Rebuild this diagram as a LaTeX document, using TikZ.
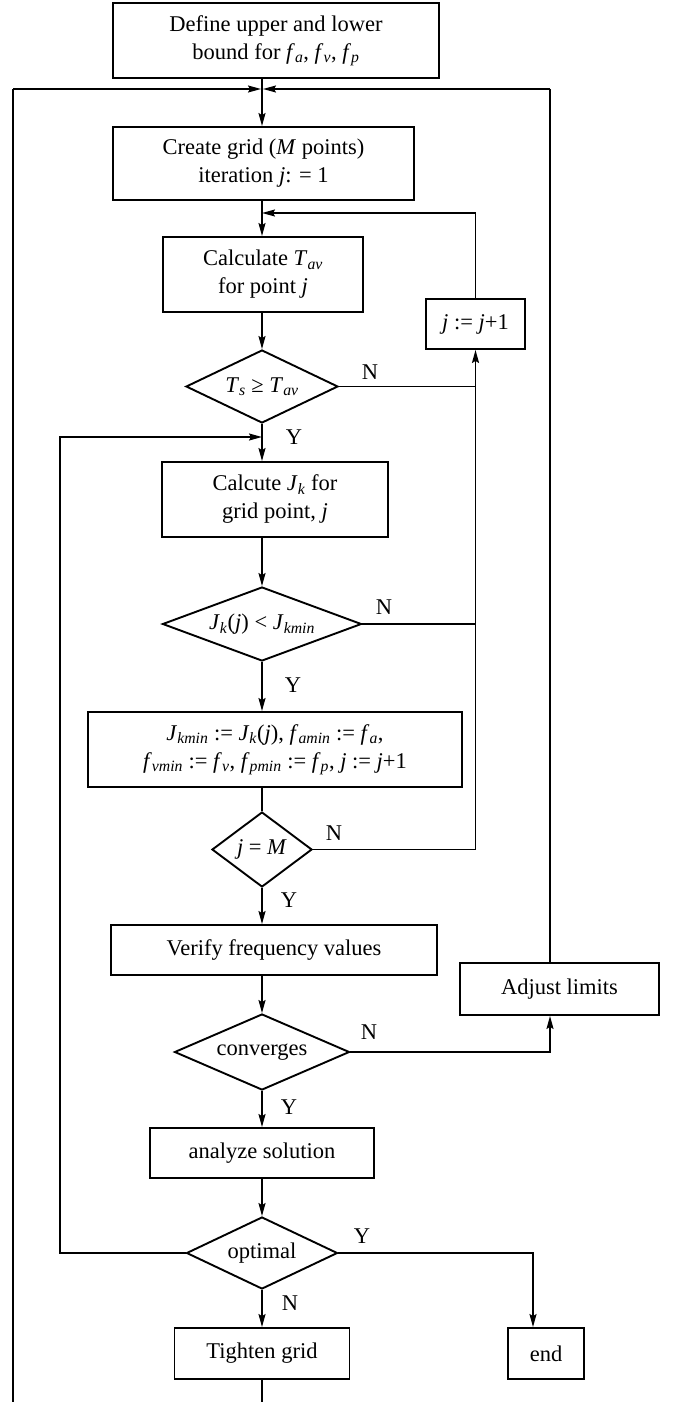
\documentclass[tikz,border=0pt]{standalone}
\usepackage{fontspec}
\setmainfont{Liberation Serif}
\usetikzlibrary{shapes.geometric,arrows.meta}
\newcommand\vv[2]{\textit{#1}\textsubscript{\textit{#2}}}
\begin{document}
\begin{tikzpicture}[x=1pt,y=-1pt,
  font=\fontsize{22.5}{28}\selectfont,
  box/.style={draw,line width=1.9pt,rectangle,inner sep=0pt,align=center},
  dia/.style={draw,line width=1.9pt,diamond,inner sep=0pt,shape aspect=2.5},
  conn/.style={line width=1.6pt},
  arr/.style={conn,-{Stealth[length=13pt,width=7pt,inset=2pt]}},
  lbl/.style={inner sep=0pt}]
\useasboundingbox (0,0) rectangle (675,1402);
% nodes
\node[box,minimum width=326pt,minimum height=75pt] (top) at (276,40.5) {Define upper and lower\\bound for \vv{f}{a}, \vv{f}{v}, \vv{f}{p}};
\node[box,minimum width=301pt,minimum height=73pt] (create) at (263.5,163.5) {Create grid (\textit{M} points)\\iteration \textit{j}: = 1};
\node[box,minimum width=200pt,minimum height=75pt] (calc) at (263,274.5) {Calculate \vv{T}{av}\\for point \textit{j}};
\node[box,minimum width=99pt,minimum height=50pt] (jinc) at (475.5,324) {\textit{j} := \textit{j}+1};
\node[dia,minimum width=152pt,minimum height=73pt] (d1) at (262,386.5) {\vv{T}{s} ≥ \vv{T}{av}};
\node[box,minimum width=226pt,minimum height=75pt] (calcJ) at (275,499.5) {Calcute \vv{J}{k} for\\grid point, \textit{j}};
\node[dia,minimum width=199pt,minimum height=74pt] (d2) at (262,624) {\vv{J}{k}(\textit{j}) < \vv{J}{kmin}};
\node[box,minimum width=374pt,minimum height=75pt] (big) at (275,749.5) {\vv{J}{kmin} := \vv{J}{k}(\textit{j}), \vv{f}{amin} := \vv{f}{a},\\\vv{f}{vmin} := \vv{f}{v}, \vv{f}{pmin} := \vv{f}{p}, \textit{j} := \textit{j}+1};
\node[dia,minimum width=100pt,minimum height=75pt] (d3) at (262,849.5) {\textit{j} = \textit{M}};
\node[box,minimum width=326pt,minimum height=50pt] (verify) at (274,950) {Verify frequency values};
\node[box,minimum width=199pt,minimum height=52pt] (adjust) at (559.5,989) {Adjust limits};
\node[dia,minimum width=175pt,minimum height=76pt] (d4) at (262,1052) {converges};
\node[box,minimum width=224pt,minimum height=50pt] (analyze) at (262,1153) {analyze solution};
\node[dia,minimum width=151pt,minimum height=72pt] (d5) at (262,1253) {optimal};
\node[box,minimum width=175pt,minimum height=51pt] (tighten) at (262,1353.5) {Tighten grid};
\node[box,minimum width=76pt,minimum height=51pt] (endb) at (546,1353.5) {end};
% coordinates
\coordinate (J) at (262,89);
\coordinate (LT) at (13,89);
\coordinate (RT) at (550,89);
\coordinate (LB) at (13,1402);
\coordinate (TB) at (262,1402);
\coordinate (K1) at (262,213);
\coordinate (K2) at (262,437);
\coordinate (IL) at (60,437);
\coordinate (EX) at (533,1253);
% connectors
\draw[arr] (top.south -| J) -- (create.north -| J);
\draw[arr] (LT) -- ([xshift=-1pt]J);
\draw[arr] (RT) -- ([xshift=1pt]J);
\draw[conn] (LB) -- (LT);
\draw[conn] (RT) -- (adjust.north -| RT);
\draw[arr] (create.south -| K1) -- (calc.north -| K1);
\draw[arr] (jinc.north) |- (K1);
\draw[arr] (calc.south -| d1.north) -- (d1.north);
\draw[conn] (d1.east) -- (d1.east -| jinc.south);
\draw[conn] (d2.east) -- (d2.east -| jinc.south);
\draw[conn] (d3.east) -- (d3.east -| jinc.south);
\draw[arr] (d3.east -| jinc.south) -- (jinc.south);
\draw[arr] (d1.south) -- (calcJ.north -| d1.south);
\draw[arr] (d5.west) -| (IL) -- (K2);
\draw[arr] (calcJ.south -| d2.north) -- (d2.north);
\draw[arr] (d2.south) -- (big.north -| d2.south);
\draw[conn] (big.south -| d3.north) -- (d3.north);
\draw[arr] (d3.south) -- (verify.north -| d3.south);
\draw[arr] (verify.south -| d4.north) -- (d4.north);
\draw[arr] (d4.east) -| (adjust.south -| RT);
\draw[arr] (d4.south) -- (analyze.north);
\draw[arr] (analyze.south) -- (d5.north);
\draw[arr] (d5.east) -| (endb.north -| EX);
\draw[arr] (d5.south) -- (tighten.north);
\draw[conn] (tighten.south) -- (TB);
% labels
\node[lbl] (n1) at (370,372) {N};
\node[lbl] (y1) at (294,437) {Y};
\node[lbl] (n2) at (384,607) {N};
\node[lbl] (y2) at (293,685) {Y};
\node[lbl] (n3) at (334,833) {N};
\node[lbl] (y3) at (289,900) {Y};
\node[lbl] (n4) at (369,1032) {N};
\node[lbl] (y4) at (289,1107) {Y};
\node[lbl] (y5) at (362,1236) {Y};
\node[lbl] (n5) at (290,1303) {N};
\end{tikzpicture}
\end{document}
